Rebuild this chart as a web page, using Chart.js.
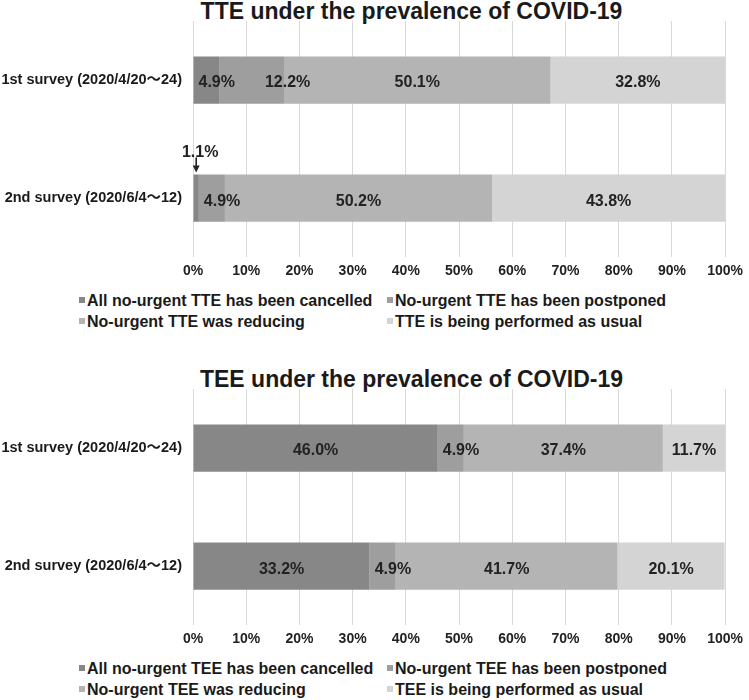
<!DOCTYPE html>
<html>
<head>
<meta charset="utf-8">
<script src="https://cdn.jsdelivr.net/npm/chart.js@4/dist/chart.umd.min.js"></script>
<style>
  body { margin: 0; background: #fff; }
  #page { position: relative; width: 749px; height: 700px; overflow: hidden;
    font-family: "Liberation Sans", "Noto Sans CJK JP", sans-serif; color: #1a1a1a; }
  .block { position: absolute; left: 0; width: 749px; height: 335px; }
  .title { position: absolute; top: -1px; left: 74px; width: 675px; text-align: center;
    font-weight: bold; font-size: 23px; line-height: 24px; }
  .cv { position: absolute; top: 0; left: 0; }
  .legend { position: absolute; top: 290px; left: 79px; display: grid;
    grid-template-columns: 308px 340px; font-weight: bold; font-size: 16px; line-height: 21px; }
  .legend span.box { display: inline-block; width: 6px; height: 6px; margin-right: 2px; vertical-align: 3px; }
</style>
</head>
<body>
<div id="page">
  <div class="block" style="top:0">
    <div class="title" id="t1"></div>
    <div class="cv"><canvas id="c1" width="749" height="286"></canvas></div>
    <div class="legend" id="l1"></div>
  </div>
  <div class="block" style="top:368px">
    <div class="title" id="t2"></div>
    <div class="cv"><canvas id="c2" width="749" height="286"></canvas></div>
    <div class="legend" id="l2"></div>
  </div>
</div>
<script>
const FONT = '"Liberation Sans", "Noto Sans CJK JP", sans-serif';
const surveys = ["1st survey (2020/4/20\u301C24)", "2nd survey (2020/6/4\u301C12)"];
const segColors = ["#878787", "#9e9e9e", "#b4b4b4", "#d4d4d4"];

const tteTitle = "TTE under the prevalence of COVID-19";
const tteSeries = [
  "All no-urgent TTE has been cancelled",
  "No-urgent TTE has been postponed",
  "No-urgent TTE was reducing",
  "TTE is being performed as usual",
];
const tteCancelled = [4.9, 1.1];
const ttePostponed = [12.2, 4.9];
const tteReducing = [50.1, 50.2];
const tteUsual = [32.8, 43.8];

const teeTitle = "TEE under the prevalence of COVID-19";
const teeSeries = [
  "All no-urgent TEE has been cancelled",
  "No-urgent TEE has been postponed",
  "No-urgent TEE was reducing",
  "TEE is being performed as usual",
];
const teeCancelled = [46.0, 33.2];
const teePostponed = [4.9, 4.9];
const teeReducing = [37.4, 41.7];
const teeUsual = [11.7, 20.1];

// labels inside each segment, tiny ones get a call-out with an arrow
const segmentLabels = {
  id: "segmentLabels",
  afterDatasetsDraw(chart){
    const ctx = chart.ctx;
    ctx.save();
    ctx.font = `bold 16px ${FONT}`;
    ctx.fillStyle = "#222";
    ctx.strokeStyle = "#111";
    ctx.textBaseline = "middle";
    ctx.textAlign = "left";
    const lastRight = {};
    chart.data.datasets.forEach((ds, i) => {
      chart.getDatasetMeta(i).data.forEach((bar, j) => {
        const v = ds.data[j];
        const p = bar.getProps(["x", "base", "y", "height"], true);
        const cx = (p.x + p.base) / 2;
        const txt = `${v.toFixed(1)}%`;
        const w = ctx.measureText(txt).width;
        if (v < 2){
          const top = p.y - p.height / 2;
          ctx.fillText(txt, cx + 4 - w / 2, top - 22);
          ctx.lineWidth = 1.5;
          ctx.beginPath();
          ctx.moveTo(cx, top - 17);
          ctx.lineTo(cx, top - 7);
          ctx.stroke();
          ctx.beginPath();
          ctx.moveTo(cx - 3.5, top - 9);
          ctx.lineTo(cx + 3.5, top - 9);
          ctx.lineTo(cx, top - 2);
          ctx.closePath();
          ctx.fill();
          return;
        }
        let left = cx - w / 2;
        if (w + 6 > p.x - p.base) left = p.base + 5;
        if (lastRight[j] !== undefined && left < lastRight[j] + 30) left = lastRight[j] + 30;
        ctx.fillText(txt, left, p.y + 3);
        lastRight[j] = left + w;
      });
    });
    ctx.restore();
  },
};

function makeChart(canvasId, legendId, titleId, title, names, series){
  document.getElementById(titleId).textContent = title;
  const chart = new Chart(document.getElementById(canvasId), {
    type: "bar",
    data: {
      labels: surveys,
      datasets: series.map((d, i) => ({
        label: names[i],
        data: d,
        backgroundColor: segColors[i],
        borderWidth: 0,
        categoryPercentage: 0.4,
        barPercentage: 1,
      })),
    },
    options: {
      indexAxis: "y",
      responsive: false,
      animation: false,
      layout: { padding: { top: 21, right: 19, left: 0, bottom: 0 } },
      plugins: { legend: { display: false }, tooltip: { enabled: false }, title: { display: false } },
      scales: {
        x: {
          stacked: true, min: 0, max: 100,
          grid: { color: "#d9d9d9", lineWidth: 1, drawTicks: false },
          border: { display: false },
          ticks: { stepSize: 10, padding: 6, color: "#222", font: { family: FONT, size: 14, weight: "bold" },
            callback: (v) => `${v}%` },
        },
        y: {
          stacked: true,
          grid: { display: false, drawTicks: false },
          border: { display: false },
          ticks: { padding: 11, color: "#1a1a1a", font: { family: FONT, size: 14.5, weight: "bold" } },
          afterFit(scale){ scale.width = 193; },
        },
      },
    },
    plugins: [segmentLabels],
  });
  const lg = document.getElementById(legendId);
  lg.innerHTML = chart.data.datasets.map((ds) =>
    `<div><span class="box" style="background:${ds.backgroundColor}"></span>${ds.label}</div>`).join("");
  return chart;
}

makeChart("c1", "l1", "t1", tteTitle, tteSeries, [tteCancelled, ttePostponed, tteReducing, tteUsual]);
makeChart("c2", "l2", "t2", teeTitle, teeSeries, [teeCancelled, teePostponed, teeReducing, teeUsual]);
</script>
</body>
</html>
